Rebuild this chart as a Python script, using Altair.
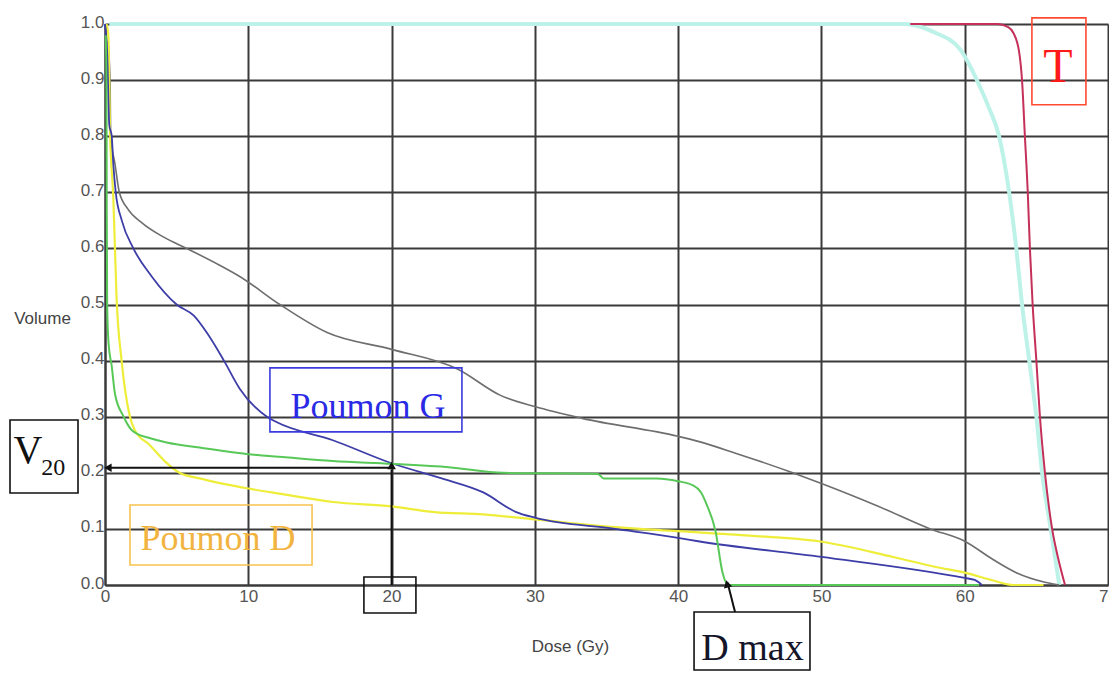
import altair as alt
import pandas as pd

# ---- curve data (Dose in Gy, Volume fraction) ----
cyan_dose = [0.3, 55.8, 57.8, 59.7, 60.85, 61.7, 62.4, 63.1, 63.6, 64.0, 64.5, 65.0, 65.4, 66.0, 66.6]
cyan_vol = [1.0, 1.0, 0.986, 0.954, 0.9, 0.85, 0.8, 0.7, 0.6, 0.5, 0.4, 0.3, 0.2, 0.1, 0.0]

red_dose = [56.2, 62.3, 63.0, 63.4, 63.8, 64.0, 64.2, 64.4, 64.55, 64.74, 65.0, 65.25, 65.6, 66.1, 66.5, 67.0]
red_vol = [1.0, 1.0, 0.995, 0.984, 0.95, 0.9, 0.8, 0.7, 0.6, 0.5, 0.4, 0.3, 0.2, 0.1, 0.05, 0.0]

gray_dose = [0.2, 0.35, 0.4, 0.7, 1.0, 1.6, 2.6, 4.1, 5.7, 8.0, 9.4, 12.2, 15.5, 20.0, 24.6, 27.6,
             30.0, 33.3, 40.0, 41.4, 44.0, 48.0, 50.0, 54.0, 57.6, 60.0, 62.0, 63.6, 65.6, 66.6]
gray_vol = [0.97, 0.9, 0.8, 0.75, 0.7, 0.67, 0.645, 0.62, 0.6, 0.57, 0.55, 0.5, 0.45, 0.42, 0.385, 0.338,
            0.318, 0.297, 0.265, 0.256, 0.235, 0.2, 0.181, 0.14, 0.1, 0.078, 0.045, 0.022, 0.005, 0.0]

blue_dose = [0.0, 0.15, 0.3, 0.47, 0.58, 0.75, 1.17, 1.98, 3.26, 5.0, 6.2, 7.1, 8.3, 9.4, 11.3, 12.0,
             15.9, 20.0, 23.5, 26.4, 28.7, 30.0, 35.6, 40.0, 41.4, 50.0, 60.0, 60.7, 61.2]
blue_vol = [1.0, 0.95, 0.82, 0.8, 0.75, 0.7, 0.65, 0.6, 0.55, 0.5, 0.48, 0.45, 0.4, 0.35, 0.3, 0.29,
            0.258, 0.217, 0.19, 0.165, 0.13, 0.12, 0.1, 0.084, 0.078, 0.05, 0.0125, 0.009, 0.0]

green_dose = [0.05, 0.1, 0.12, 0.15, 0.25, 0.47, 0.7, 1.3, 1.8, 2.2, 3.1, 4.3, 6.6, 10.0, 12.4, 15.9,
              20.0, 24.0, 27.8, 34.4, 34.8, 38.5, 40.0, 41.0, 41.6, 42.0, 42.6, 43.1, 43.5, 61.0]
green_vol = [0.98, 0.9, 0.7, 0.5, 0.43, 0.39, 0.34, 0.3, 0.278, 0.27, 0.262, 0.254, 0.245, 0.233, 0.228, 0.221,
             0.216, 0.21, 0.2, 0.198, 0.19, 0.19, 0.185, 0.178, 0.165, 0.143, 0.097, 0.022, 0.0, 0.0]

yellow_dose = [0.1, 0.23, 0.35, 0.58, 0.81, 1.16, 1.74, 2.1, 3.1, 4.2, 5.2, 6.6, 10.0, 12.4, 15.9, 20.0,
               23.0, 26.4, 30.0, 35.6, 40.0, 45.0, 49.8, 55.0, 58.0, 60.0, 62.0, 63.4, 65.5]
yellow_vol = [1.0, 0.98, 0.81, 0.69, 0.51, 0.4, 0.3, 0.275, 0.25, 0.22, 0.2, 0.19, 0.172, 0.162, 0.148, 0.14,
              0.13, 0.126, 0.117, 0.103, 0.096, 0.088, 0.078, 0.05, 0.032, 0.022, 0.008, 0.0, 0.0]

x_ticks = [0, 10, 20, 30, 40, 50, 60, 70]
y_ticks = [0.0, 0.1, 0.2, 0.3, 0.4, 0.5, 0.6, 0.7, 0.8, 0.9, 1.0]

# ---- annotations (data coordinates) ----
box_x1 = [64.69, 11.51, 1.745, -6.63, 18.07, 41.11]
box_x2 = [68.46, 24.91, 14.45, -1.884, 21.70, 49.20]
box_y1 = [1.011, 0.387, 0.1426, 0.294, 0.0143, -0.048]
box_y2 = [0.856, 0.273, 0.0357, 0.164, -0.0499, -0.1515]
box_col = ["#ff4a30", "#3b3bdc", "#f6c24e", "#111111", "#111111", "#111111"]

lab_text = ["T", "Poumon G", "Poumon D", "V", "20", "D max"]
lab_x = [66.5, 18.35, 7.89, -5.37, -3.62, 45.19]
lab_y = [0.8966, 0.2977, 0.0624, 0.2175, 0.196, -0.1337]
lab_size = [48, 36, 36, 40, 24, 38]
lab_col = ["#ff1a1a", "#2a2ae6", "#f2b441", "#111111", "#111111", "#15152a"]

arr_x1 = [20.0, 20.0, 43.97]
arr_y1 = [0.209, 0.0, -0.048]
arr_x2 = [0.4, 20.0, 43.45]
arr_y2 = [0.209, 0.206, 0.004]
head_x = [0.2, 20.0, 43.42]
head_y = [0.209, 0.213, 0.002]
head_shape = ["triangle-left", "triangle-up", "triangle-up"]
head_angle = [0, 0, 345]

xscale = alt.Scale(domain=[0, 70], nice=False, zero=False)
yscale = alt.Scale(domain=[0, 1], nice=False, zero=False)

xaxis = alt.Axis(values=x_ticks, grid=True, gridColor="#3a3a3a", gridWidth=2, gridOpacity=1,
                 domain=True, domainColor="#3a3a3a", domainWidth=2, ticks=False,
                 labelPadding=3, labelFontSize=17, labelColor="#555555", labelFont="Liberation Sans",
                 labelFlush=False, title="Dose (Gy)", titleFontSize=17, titleFontWeight="normal",
                 titleColor="#444444", titleFont="Liberation Sans", titleX=465, titleY=61,
                 titleAlign="center", titleBaseline="middle")
yaxis = alt.Axis(values=y_ticks, format=".1f", grid=True, gridColor="#3a3a3a", gridWidth=2, gridOpacity=1,
                 domain=True, domainColor="#3a3a3a", domainWidth=2, ticks=False,
                 labelPadding=1, labelFontSize=17, labelColor="#555555", labelFont="Liberation Sans",
                 labelFlush=False, labelOffset=-2, title="Volume", titleFontSize=17,
                 titleFontWeight="normal", titleColor="#444444", titleFont="Liberation Sans",
                 titleAngle=0, titleX=-63, titleY=294, titleAlign="center", titleBaseline="middle")


def curve(dose, vol, color, width):
    df = pd.DataFrame({"dose": dose, "vol": vol, "i": list(range(len(dose)))})
    return alt.Chart(df).mark_line(color=color, strokeWidth=width, clip=False,
                                   interpolate="monotone").encode(
        x=alt.X("dose:Q", scale=xscale, axis=xaxis),
        y=alt.Y("vol:Q", scale=yscale, axis=yaxis),
        order="i:Q",
    )


layers = [
    curve(cyan_dose, cyan_vol, "#bdf2e9", 4.0),
    curve(gray_dose, gray_vol, "#6e6e6e", 1.6),
    curve(yellow_dose, yellow_vol, "#eeee3a", 2.2),
    curve(blue_dose, blue_vol, "#3d3da8", 1.8),
    curve(green_dose, green_vol, "#58c858", 2.0),
    curve(red_dose, red_vol, "#c4305a", 2.0),
]

boxes = pd.DataFrame({"x1": box_x1, "x2": box_x2, "y1": box_y1, "y2": box_y2, "c": box_col})
box_layer = alt.Chart(boxes).mark_rect(filled=False, strokeWidth=1.6, clip=False).encode(
    x=alt.X("x1:Q", scale=xscale, axis=xaxis), x2="x2:Q",
    y=alt.Y("y1:Q", scale=yscale, axis=yaxis), y2="y2:Q",
    stroke=alt.Color("c:N", scale=None),
)

labels = pd.DataFrame({"t": lab_text, "x": lab_x, "y": lab_y, "s": lab_size, "c": lab_col})
text_layer = alt.Chart(labels).mark_text(font="Liberation Serif", baseline="alphabetic",
                                         align="center", clip=False).encode(
    x=alt.X("x:Q", scale=xscale, axis=xaxis),
    y=alt.Y("y:Q", scale=yscale, axis=yaxis),
    text="t:N",
    size=alt.Size("s:Q", scale=None),
    color=alt.Color("c:N", scale=None),
)

arrows = pd.DataFrame({"x1": arr_x1, "y1": arr_y1, "x2": arr_x2, "y2": arr_y2})
arrow_layer = alt.Chart(arrows).mark_rule(color="#111111", strokeWidth=2, clip=False).encode(
    x=alt.X("x1:Q", scale=xscale, axis=xaxis), x2="x2:Q",
    y=alt.Y("y1:Q", scale=yscale, axis=yaxis), y2="y2:Q",
)

heads = pd.DataFrame({"x": head_x, "y": head_y, "sh": head_shape, "a": head_angle})
head_layer = alt.Chart(heads).mark_point(filled=True, color="#111111", opacity=1, size=75, clip=False).encode(
    x=alt.X("x:Q", scale=xscale, axis=xaxis),
    y=alt.Y("y:Q", scale=yscale, axis=yaxis),
    shape=alt.Shape("sh:N", scale=None),
    angle=alt.Angle("a:Q", scale=None),
)

chart = alt.layer(*layers, box_layer, arrow_layer, head_layer, text_layer).properties(
    width=1003, height=561,
    padding={"left": 97, "top": 16, "right": 1, "bottom": 86},
    autosize=alt.AutoSizeParams(type="none"),
    background="white",
).configure_view(strokeWidth=0)

chart.save("out.html", embed_options={"renderer": "svg", "actions": False})
